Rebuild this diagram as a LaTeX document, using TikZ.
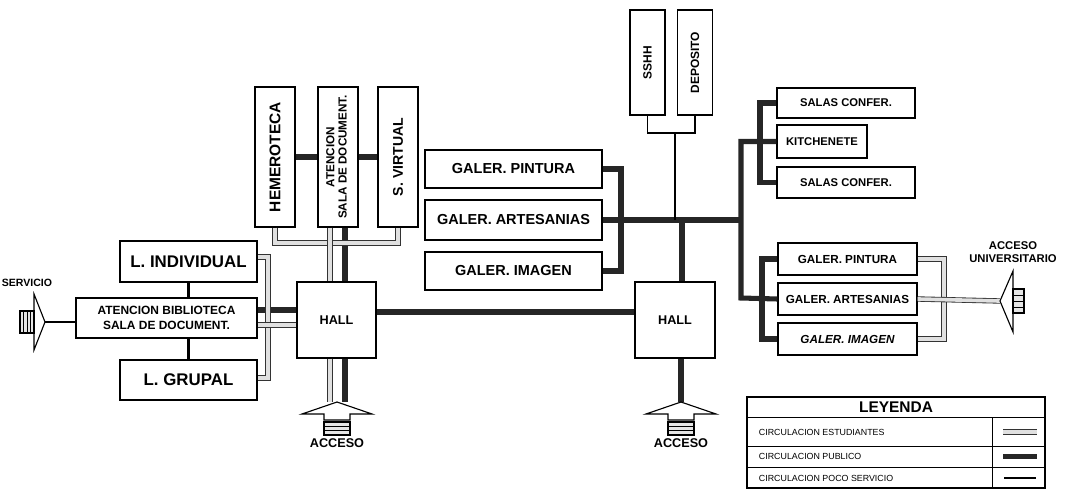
\documentclass[tikz,border=0pt]{standalone}
\usepackage{fontspec}
\setmainfont{Liberation Sans}
\usepackage{graphicx}
\usepackage{tikz}
\usetikzlibrary{calc, positioning}

\begin{document}
\begin{tikzpicture}[x=0.025cm, y=-0.025cm,
    caja/.style={draw, line width=0.9pt, fill=white, inner sep=0pt, align=center, font=\bfseries},
    letra/.style={font=\bfseries\fontsize{#1}{#1}\selectfont},
    estud/.style={draw=black!80, line width=0.6pt, double=black!12, double distance=2.6pt},
    publico/.style={draw=black!85, line width=3.6pt},
    poco/.style={draw=black, line width=1.3pt}]

    % =================================================================
    % 1. COORDENADAS DE NUDOS Y FLECHAS DE ACCESO
    % =================================================================
    \useasboundingbox (0,0) rectangle (1072,500);
    \coordinate (serv) at (45,322);
    \coordinate (acc1) at (337,402);
    \coordinate (acc2) at (681,402);
    \coordinate (univ) at (1000,301);
    \coordinate (nudo) at (741,220);
    \coordinate (nudosshh) at (675,133);

    % =================================================================
    % 2. AMBIENTES
    % =================================================================
    % Biblioteca
    \node[caja, minimum width=3.425cm, minimum height=1.025cm, letra=12] (indiv) at (188.5,261.5) {L. INDIVIDUAL};
    \node[caja, minimum width=4.525cm, minimum height=1cm, font=\bfseries\fontsize{8.5}{10.6}\selectfont] (atbib) at (166.5,318) {ATENCION BIBLIOTECA\\SALA DE DOCUMENT.};
    \node[caja, minimum width=3.425cm, minimum height=1cm, letra=12] (grupal) at (188.5,380) {L. GRUPAL};
    \node[caja, minimum width=1cm, minimum height=3.5cm, letra=11] (hemero) at (275,157) {\rotatebox{90}{HEMEROTECA}};
    \node[caja, minimum width=1cm, minimum height=3.5cm, font=\bfseries\fontsize{8.3}{8.8}\selectfont] (atdoc) at (338,157) {\rotatebox{90}{\begin{tabular}{@{}c@{}}ATENCION\\SALA DE DOCUMENT.\end{tabular}}};
    \node[caja, minimum width=1cm, minimum height=3.5cm, letra=10] (svirt) at (398,157) {\rotatebox{90}{S. VIRTUAL}};
    \node[caja, minimum width=1.975cm, minimum height=1.9cm, letra=9] (hall1) at (336.5,320) {HALL};

    % Galerias centrales
    \node[caja, minimum width=4.425cm, minimum height=0.95cm, letra=10.3] (gpint) at (513.5,169) {GALER. PINTURA};
    \node[caja, minimum width=4.425cm, minimum height=1cm, letra=10.3] (gart) at (513.5,220) {GALER. ARTESANIAS};
    \node[caja, minimum width=4.425cm, minimum height=0.95cm, letra=10.3] (gimag) at (513.5,271) {GALER. IMAGEN};
    \node[caja, minimum width=0.875cm, minimum height=2.625cm, letra=8.5] (sshh) at (647.5,62.5) {\rotatebox{90}{SSHH}};
    \node[caja, minimum width=0.875cm, minimum height=2.625cm, letra=8.5] (depo) at (695,62.5) {\rotatebox{90}{DEPOSITO}};
    \node[caja, minimum width=2cm, minimum height=1.9cm, letra=9] (hall2) at (675,320) {HALL};

    % Conferencias
    \node[caja, minimum width=3.45cm, minimum height=0.75cm, letra=8] (sconf1) at (846,103) {SALAS CONFER.};
    \node[caja, minimum width=2.25cm, minimum height=0.825cm, letra=8] (kitch) at (822,141.5) {KITCHENETE};
    \node[caja, minimum width=3.45cm, minimum height=0.775cm, letra=8] (sconf2) at (846,182.5) {SALAS CONFER.};

    % Galerias del acceso universitario
    \node[caja, minimum width=3.475cm, minimum height=0.8cm, letra=8.3] (rpint) at (847.5,259) {GALER. PINTURA};
    \node[caja, minimum width=3.475cm, minimum height=0.8cm, letra=8.3] (rart) at (847.5,299) {GALER. ARTESANIAS};
    \node[caja, minimum width=3.475cm, minimum height=0.8cm, font=\bfseries\itshape\fontsize{8.3}{8.3}\selectfont] (rimag) at (847.5,339) {GALER. IMAGEN};

    % =================================================================
    % 3. CIRCULACION PUBLICO (OSCURA)
    % =================================================================
    \draw[publico] (hemero.east) -- (atdoc.west);
    \draw[publico] (atdoc.east) -- (svirt.west);
    \draw[publico] (atbib.east |- 0,310) -- (hall1.west |- 0,310);
    \draw[publico] (atdoc.south -| 345,0) -- (hall1.north -| 345,0);
    \draw[publico] (hall1.south -| 345,0) -- (acc1 -| 345,0);
    \draw[publico] (hall1.east |- 0,312) -- (hall2.west |- 0,312);
    \draw[publico] (gpint.east) -| (621,271) -- (gimag.east);
    \draw[publico] (gart.east) -- (nudo);
    \draw[publico] (hall2.north -| 682,0) -- (nudo -| 682,0);
    \draw[publico] (hall2.south -| acc2) -- (acc2);
    \draw[publico] (kitch.west) -| (741,298) -- (rart.west);
    \draw[publico] (sconf1.west) -| (760,182.5) -- (sconf2.west);
    \draw[publico] (rpint.west) -| (762,339) -- (rimag.west);

    % =================================================================
    % 4. CIRCULACION ESTUDIANTES (CLARA) Y POCO SERVICIO
    % =================================================================
    \draw[estud] (indiv.east |- 0,257) -| (268,378) -- (grupal.east |- 0,378);
    \draw[estud] (atbib.east |- 0,325) -- (hall1.west |- 0,325);
    \draw[estud] (hemero.south) |- (svirt.south |- 0,243) -- (svirt.south);
    \draw[estud] (atdoc.south -| 330,0) -- (hall1.north -| 330,0);
    \draw[estud] (hall1.south -| 330,0) -- (acc1 -| 330,0);
    \draw[estud] (rpint.east) -| (944,339) -- (rimag.east);
    \draw[estud] (rart.east) -- (univ);

    \draw[poco] (serv) -- (atbib.west |- serv);
    \draw[poco, line width=2pt] (indiv.south) -- (indiv.south |- atbib.north);
    \draw[poco, line width=2pt] (indiv.south |- atbib.south) -- (indiv.south |- grupal.north);
    \draw[poco] (sshh.south) |- (nudosshh) -| (depo.south);
    \draw[poco] (nudosshh) -- (nudosshh |- nudo);

    % =================================================================
    % 5. FLECHAS DE ACCESO Y ROTULOS
    % =================================================================
    % Accesos inferiores
    \foreach \p in {acc1, acc2} {
        \draw[line width=0.8pt, fill=white] (\p) -- ++(35,12) -- ++(-22,0) -- ++(0,6) -- ++(-26,0) -- ++(0,-6) -- ++(-22,0) -- cycle;
        \draw[line width=0.8pt, fill=black!10] (\p) ++(-13,20) rectangle ++(26,13);
        \draw[line width=0.6pt] (\p) ++(-13,24.5) -- ++(26,0) (\p) ++(-13,28.5) -- ++(26,0);
    }
    \node[letra=9] (lacc1) at (337,443) {ACCESO};
    \node[letra=9] (lacc2) at (681,443) {ACCESO};

    % Servicio
    \draw[line width=0.8pt, fill=white] (serv) -- ++(-11,-28) -- ++(0,56) -- cycle;
    \draw[line width=0.8pt, fill=black!10] (serv) ++(-25,-11) rectangle ++(14,22);
    \foreach \d in {-21.5,-18,-14.5} {
        \draw[line width=0.5pt] (serv) ++(\d,-11) -- ++(0,22);
    }
    \node[letra=7.5] (lserv) at (27,283) {SERVICIO};

    % Acceso universitario
    \draw[line width=0.8pt, fill=white] (univ) -- ++(13,-30) -- ++(0,61) -- cycle;
    \draw[line width=0.8pt, fill=black!10] (univ) ++(13,-12) rectangle ++(11,24);
    \foreach \d in {-6,0,6} {
        \draw[line width=0.5pt] (univ) ++(13,\d) -- ++(11,0);
    }
    \node[font=\bfseries\fontsize{8}{9}\selectfont, align=center] (luniv) at (1013,252) {ACCESO\\UNIVERSITARIO};

    % =================================================================
    % 6. LEYENDA
    % =================================================================
    \draw[line width=0.9pt] (747,397) rectangle (1045,488);
    \draw[line width=0.6pt] (747,417) -- (1045,417);
    \draw[line width=0.6pt] (747,446) -- (1045,446);
    \draw[line width=0.6pt] (747,467) -- (1045,467);
    \draw[line width=0.6pt] (992,417) -- (992,488);
    \node[letra=11] (ley) at (896,407) {LEYENDA};
    \node[anchor=west, font=\fontsize{6.3}{7}\selectfont] (ley1) at (754,432) {CIRCULACION ESTUDIANTES};
    \node[anchor=west, font=\fontsize{6.3}{7}\selectfont] (ley2) at (754,456.5) {CIRCULACION PUBLICO};
    \node[anchor=west, font=\fontsize{6.3}{7}\selectfont] (ley3) at (754,478) {CIRCULACION POCO SERVICIO};
    \draw[estud] (1003,432) -- (1037,432);
    \draw[publico] (1003,456.5) -- (1037,456.5);
    \draw[poco] (1004,478) -- (1036,478);

\end{tikzpicture}
\end{document}
